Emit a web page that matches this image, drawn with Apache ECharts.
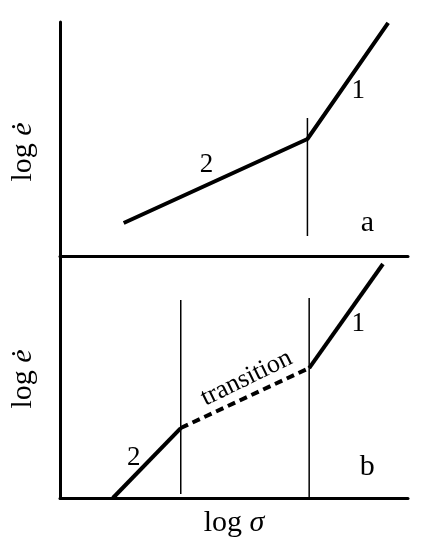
<!DOCTYPE html>
<html>
<head>
<meta charset="utf-8">
<script src="https://cdn.jsdelivr.net/npm/echarts@6/dist/echarts.min.js"></script>
<style>
html,body{margin:0;padding:0;background:#fff;}
#c{width:428px;height:550px;}
</style>
</head>
<body>
<div id="c"></div>
<script>
// Panel a (abstract log units, 0..10 on both axes)
const curveA = [[1.83, 1.41], [7.11, 5.0], [9.43, 9.96]];
const boundaryA = [[7.11, 5.9], [7.11, 0.85]];
const labelsA = [
  { name: '2', value: [4.21, 3.90] },
  { name: '1', value: [8.57, 7.05] }
];
const panelTagA = [{ name: 'a', value: [8.83, 1.41] }];

// Panel b
const regime2B = [[1.52, 0], [3.47, 2.89]];
const transitionB = [[3.47, 2.89], [7.16, 5.37]];
const regime1B = [[7.16, 5.37], [9.28, 9.67]];
const boundaryB1 = [[3.47, 8.18], [3.47, 0.17]];
const boundaryB2 = [[7.16, 8.26], [7.16, 0.04]];
const labelsB = [
  { name: '2', value: [2.12, 1.65] },
  { name: '1', value: [8.57, 7.19] }
];
const panelTagB = [{ name: 'b', value: [8.83, 1.28] }];
const transitionLabel = [{ name: 'transition', value: [5.36, 4.95] }];

const xTitle = ['log ', 'σ'];
const yTitle = ['log ', 'ė'];

const FONT = '"Liberation Serif", "Times New Roman", serif';
const axisStyle = { show: true, onZero: false, lineStyle: { color: '#000', width: 3 } };

function valAxis(grid, extra) {
  return Object.assign({
    type: 'value', gridIndex: grid, min: 0, max: 10,
    axisLine: axisStyle, axisTick: { show: false }, axisLabel: { show: false },
    splitLine: { show: false }
  }, extra || {});
}

const titleRich = {
  n: { fontFamily: FONT, fontSize: 30, color: '#000' },
  i: { fontFamily: FONT, fontSize: 30, fontStyle: 'italic', color: '#000' }
};

function yName(pad) {
  return {
    name: '{n|' + yTitle[0] + '}{i|' + yTitle[1] + '}',
    nameLocation: 'middle', nameRotate: 90, nameGap: 22,
    nameTextStyle: { padding: pad, rich: titleRich }
  };
}

function thick(data, grid, dashed) {
  return {
    type: 'line', xAxisIndex: grid, yAxisIndex: grid, data: data,
    symbol: 'none', silent: true, animation: false,
    lineStyle: { color: '#000', width: 4, type: dashed ? [8, 5] : 'solid', cap: 'butt' }
  };
}
function thin(data, grid) {
  return {
    type: 'line', xAxisIndex: grid, yAxisIndex: grid, data: data,
    symbol: 'none', silent: true, animation: false,
    lineStyle: { color: '#000', width: 1.5 }
  };
}
function labels(data, grid, size, rot) {
  return {
    type: 'scatter', xAxisIndex: grid, yAxisIndex: grid, data: data,
    symbolSize: 0, silent: true, animation: false,
    itemStyle: { opacity: 1, color: '#000' },
    label: {
      show: true, position: 'inside', formatter: '{b}', rotate: rot || 0,
      fontFamily: FONT, fontSize: size, color: '#000'
    }
  };
}

const chart = echarts.init(document.getElementById('c'), null, { renderer: 'canvas' });
chart.setOption({
  backgroundColor: '#fff',
  animation: false,
  grid: [
    { left: 59, right: 20, top: 22, height: 234 },
    { left: 59, right: 20, top: 256, height: 242 }
  ],
  xAxis: [
    valAxis(0),
    valAxis(1, {
      name: '{n|' + xTitle[0] + '}{i|' + xTitle[1] + '}',
      nameLocation: 'middle', nameGap: 10,
      nameTextStyle: { verticalAlign: 'top', rich: titleRich }
    })
  ],
  yAxis: [
    valAxis(0, yName([0, 26, 0, 0])),
    valAxis(1, yName([0, 4, 0, 0]))
  ],
  series: [
    thick(curveA, 0),
    thin(boundaryA, 0),
    labels(labelsA, 0, 27),
    labels(panelTagA, 0, 30),
    thick(regime2B, 1),
    thick(transitionB, 1, true),
    thick(regime1B, 1),
    thin(boundaryB1, 1),
    thin(boundaryB2, 1),
    labels(labelsB, 1, 27),
    labels(panelTagB, 1, 30),
    labels(transitionLabel, 1, 26, 26)
  ]
});
</script>
</body>
</html>
